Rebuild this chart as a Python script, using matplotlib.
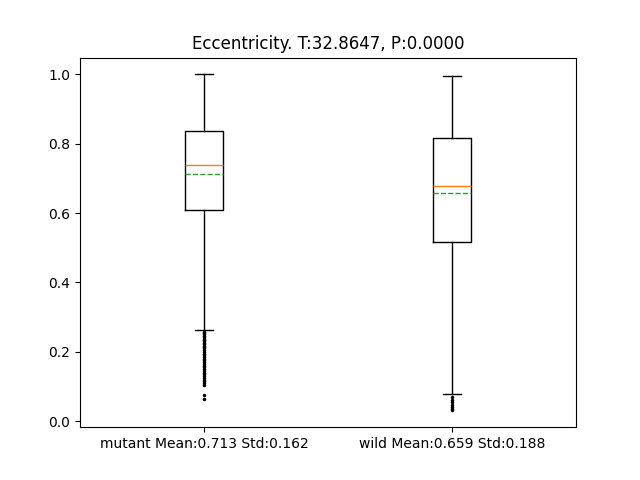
import matplotlib
matplotlib.use("Agg")
import matplotlib.pyplot as plt

labels = ["mutant Mean:0.713 Std:0.162", "wild Mean:0.659 Std:0.188"]
whislo = [0.262, 0.078]
q1 = [0.608, 0.518]
med = [0.738, 0.677]
means = [0.713, 0.659]
q3 = [0.838, 0.816]
whishi = [1.0, 0.995]
fliers_mutant = [0.258, 0.254, 0.25, 0.246, 0.242, 0.238, 0.234, 0.23, 0.226, 0.222,
                 0.218, 0.214, 0.21, 0.205, 0.2, 0.195, 0.19, 0.185, 0.18, 0.175,
                 0.17, 0.165, 0.16, 0.155, 0.15, 0.145, 0.14, 0.135, 0.13, 0.125,
                 0.12, 0.115, 0.11, 0.105, 0.075, 0.065]
fliers_wild = [0.07, 0.062, 0.055, 0.048, 0.042, 0.036, 0.031]
fliers = [fliers_mutant, fliers_wild]

stats = []
for i in range(2):
    stats.append(dict(label=labels[i], whislo=whislo[i], q1=q1[i], med=med[i],
                      mean=means[i], q3=q3[i], whishi=whishi[i], fliers=fliers[i]))

fig, ax = plt.subplots(figsize=(6.4, 4.8), dpi=100)
ax.bxp(stats, showmeans=True, meanline=True,
       flierprops=dict(marker='.', markersize=3, markerfacecolor='black'))
ax.set_title("Eccentricity. T:32.8647, P:0.0000")
fig.savefig("out.png")
